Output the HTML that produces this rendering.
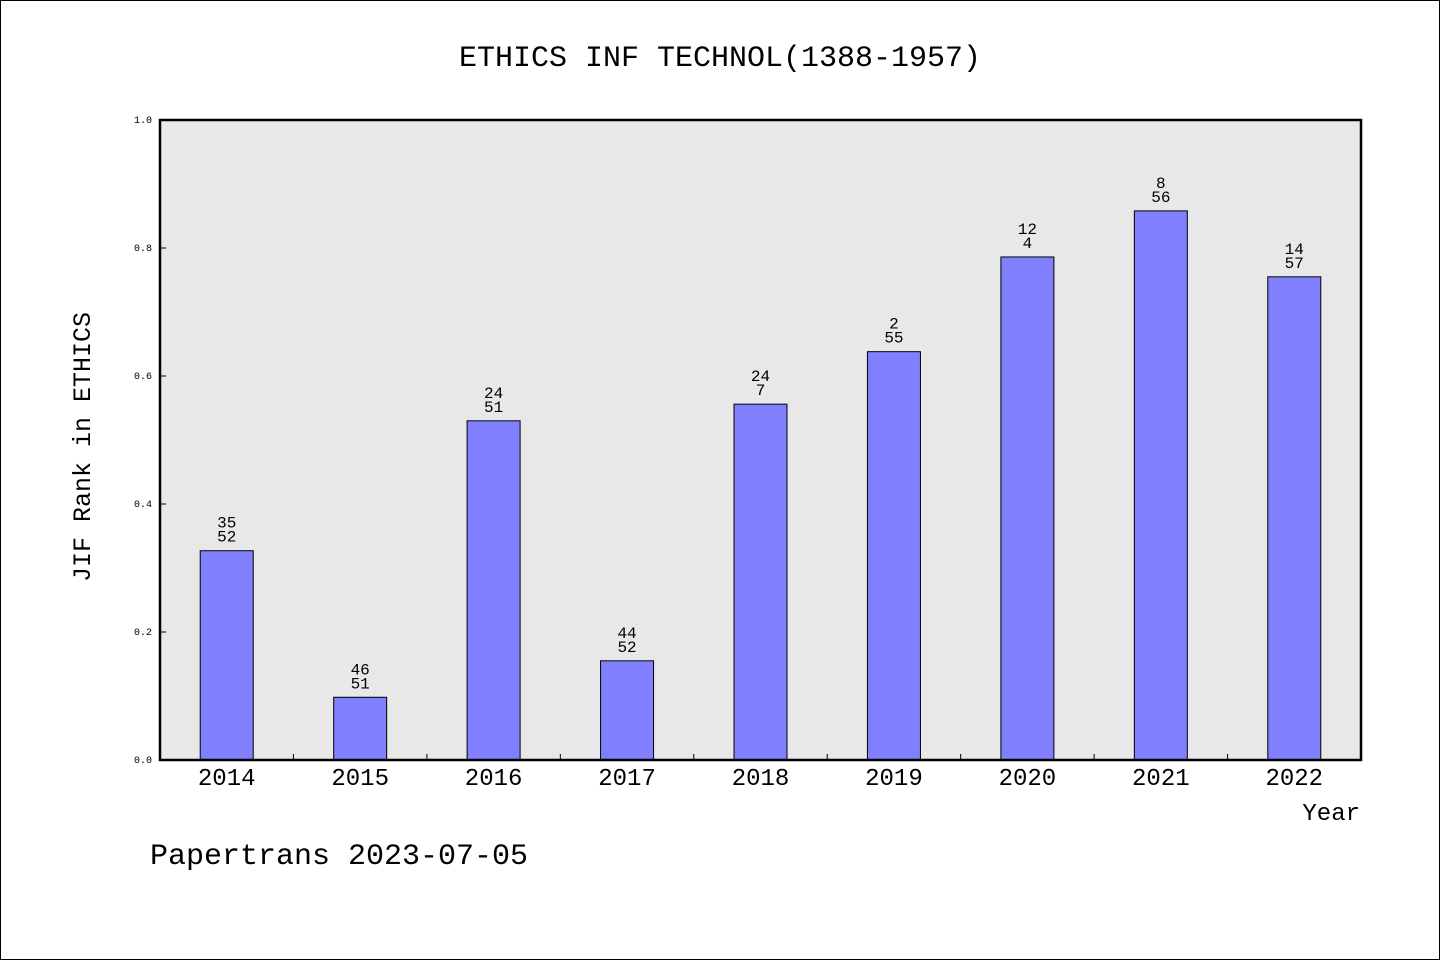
<!DOCTYPE html>
<html><head><meta charset="utf-8"><style>
html,body{margin:0;padding:0;background:#fff}
svg{display:block}
text{font-family:"Liberation Mono","WenQuanYi Zen Hei",monospace;fill:#000}
</style></head><body>
<svg id="chart" width="1440" height="960" xmlns="http://www.w3.org/2000/svg">
<rect x="0.5" y="0.5" width="1439" height="959" fill="#fff" stroke="#000"/>
<text x="720" y="66" font-size="30" text-anchor="middle">ETHICS INF TECHNOL(1388-1957)</text>
<rect x="160" y="120" width="1201" height="640" fill="#e8e8e8"/>
<g id="marks"></g>
<rect x="160" y="120" width="1201" height="640" fill="none" stroke="#000" stroke-width="2.5"/>
<text x="1360" y="820" font-size="24" text-anchor="end">Year</text>
<text transform="translate(90,447) rotate(-90)" font-size="25" text-anchor="middle">JIF Rank in ETHICS</text>
<text x="150" y="864" font-size="30">Papertrans 2023-07-05</text>
</svg>
<script>
const categories=["2014","2015","2016","2017","2018","2019","2020","2021","2022"];
const values=[0.327,0.098,0.530,0.155,0.556,0.638,0.786,0.858,0.755];
const labelTop=["35","46","24","44","24","2","12","8","14"];
const labelBottom=["52","51","51","52","7","55","4","56","57"];
const yTicks=[0,0.2,0.4,0.6,0.8,1.0];
const yTickLabels=["0.0","0.2","0.4","0.6","0.8","1.0"];

const NS="http://www.w3.org/2000/svg";
const X0=160,X1=1361,Y0=760,Y1=120;
const band=(X1-X0)/categories.length;
const xC=i=>X0+band*(i+0.5);
const y=v=>Y0-(v-0)/(1-0)*(Y0-Y1);
const g=document.getElementById('marks');
function mk(tag,attrs,txt){const e=document.createElementNS(NS,tag);for(const k in attrs)e.setAttribute(k,attrs[k]);if(txt!=null)e.textContent=txt;g.appendChild(e);return e;}

yTicks.forEach((t,i)=>{
  const l=mk('line',{x1:X0,x2:X0+6,y1:y(t),y2:y(t),stroke:'#000','stroke-width':1});
  
  
  const tx=mk('text',{x:X0-8,y:y(t)+3,'font-size':10,'text-anchor':'end'},yTickLabels[i]);
  
  
});
for(let i=1;i<categories.length;i++){
  const l=mk('line',{x1:X0+band*i,x2:X0+band*i,y1:Y0,y2:Y0-6,stroke:'#000','stroke-width':1});
  
  
}
const bw=53;
categories.forEach((c,i)=>{
  const top=y(values[i]);
  const r=mk('rect',{x:xC(i)-bw/2,y:top,width:bw,height:Y0-top,fill:'#8080ff',stroke:'#000','stroke-width':1});
  
  
  const a=mk('text',{x:xC(i),y:top-23,'font-size':16,'text-anchor':'middle'},labelTop[i]);
  
  
  const b=mk('text',{x:xC(i),y:top-9,'font-size':16,'text-anchor':'middle'},labelBottom[i]);
  
  
  const xl=mk('text',{x:xC(i),y:785,'font-size':24,'text-anchor':'middle'},c);
  
  
});
</script>
</body></html>
